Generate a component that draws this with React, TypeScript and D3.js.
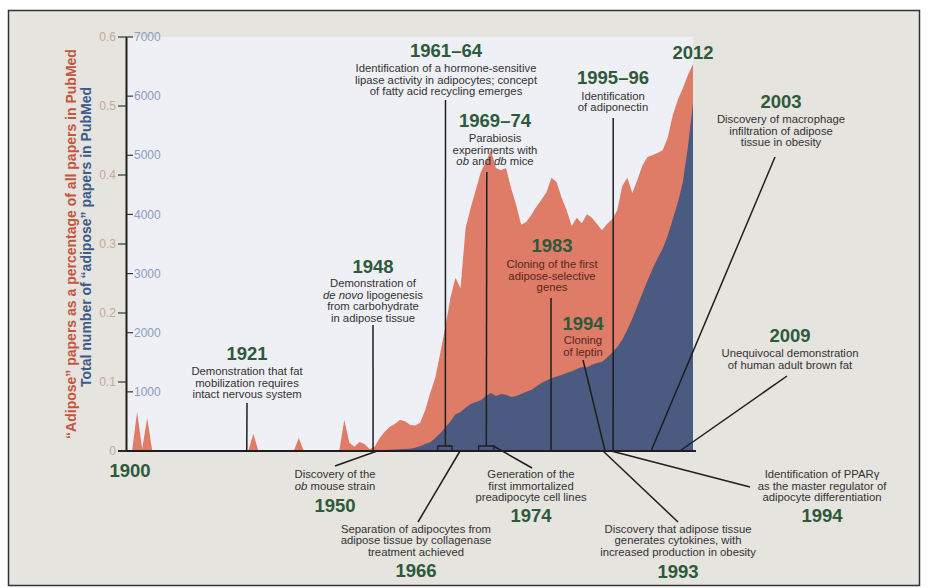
import React from "react";
import * as d3 from "d3";

const W = 928, H = 588;

// years 1900..2012, one value per year
const years = d3.range(1900, 2013);

// "adipose" papers as % of all PubMed papers
const pctOfAll = [
  0, 0, 0.057, 0.003, 0.048, 0, 0, 0, 0, 0,
  0, 0, 0, 0, 0, 0, 0, 0, 0, 0,
  0, 0, 0, 0, 0, 0.025, 0, 0, 0, 0,
  0, 0, 0, 0, 0.019, 0, 0, 0, 0, 0,
  0, 0, 0, 0.045, 0.012, 0.006, 0.013, 0.01, 0.003, 0.006,
  0.019, 0.028, 0.035, 0.039, 0.045, 0.043, 0.038, 0.037, 0.041, 0.059,
  0.084, 0.106, 0.142, 0.18, 0.222, 0.251, 0.236, 0.323, 0.352, 0.378,
  0.404, 0.419, 0.436, 0.41, 0.407, 0.41, 0.381, 0.357, 0.328, 0.332,
  0.342, 0.354, 0.364, 0.375, 0.396, 0.39, 0.367, 0.349, 0.326, 0.338,
  0.33, 0.343, 0.338, 0.329, 0.32, 0.329, 0.336, 0.349, 0.384, 0.396,
  0.374, 0.393, 0.414, 0.426, 0.429, 0.432, 0.436, 0.454, 0.487, 0.509,
  0.526, 0.545, 0.561,
];

// total number of "adipose" papers
const adiposeCount = [
  0, 0, 3, 0, 3, 0, 0, 0, 0, 0,
  0, 0, 0, 0, 0, 0, 0, 0, 0, 0,
  0, 0, 0, 0, 0, 2, 0, 0, 0, 0,
  0, 0, 0, 0, 2, 0, 0, 0, 0, 0,
  0, 0, 0, 4, 1, 1, 2, 1, 1, 2,
  10, 15, 20, 25, 30, 35, 40, 55, 80, 120,
  150, 220, 300, 400, 500, 620, 660, 730, 795, 830,
  860, 930, 980, 930, 965, 950, 915, 930, 965, 1000,
  1030, 1090, 1150, 1190, 1230, 1260, 1285, 1320, 1350, 1385,
  1420, 1410, 1460, 1490, 1510, 1580, 1660, 1760, 1880, 2050,
  2240, 2450, 2670, 2880, 3080, 3260, 3420, 3640, 3920, 4200,
  4550, 5150, 5880,
];

const pctTicks = [0, 0.1, 0.2, 0.3, 0.4, 0.5, 0.6];
const countTicks = [1000, 2000, 3000, 4000, 5000, 6000, 7000];

// periods marked with a small bracket on the axis
const brackets = [
  [1961.5, 1964.3],
  [1969.6, 1972.6],
];

// timeline notes: anchor = year on the axis where the leader starts
// (*text* = italic)
const notes = [
  { label: "1921", lines: ["Demonstration that fat", "mobilization requires", "intact nervous system"], anchor: 1923.7, below: false },
  { label: "1948", lines: ["Demonstration of", "*de novo* lipogenesis", "from carbohydrate", "in adipose tissue"], anchor: 1948.7, below: false },
  { label: "1961–64", lines: ["Identification of a hormone-sensitive", "lipase activity in adipocytes; concept", "of fatty acid recycling emerges"], anchor: 1963.0, below: false },
  { label: "1969–74", lines: ["Parabiosis", "experiments with", "*ob* and *db* mice"], anchor: 1971.1, below: false },
  { label: "1983", lines: ["Cloning of the first", "adipose-selective", "genes"], anchor: 1983.9, below: false },
  { label: "1994", lines: ["Cloning", "of leptin"], anchor: 1994.6, below: false },
  { label: "1995–96", lines: ["Identification", "of adiponectin"], anchor: 1996.2, below: false },
  { label: "2003", lines: ["Discovery of macrophage", "infiltration of adipose", "tissue in obesity"], anchor: 2003.7, below: false },
  { label: "2009", lines: ["Unequivocal demonstration", "of human adult brown fat"], anchor: 2009.4, below: false },
  { label: "1950", lines: ["Discovery of the", "*ob* mouse strain"], anchor: 1949.5, below: true },
  { label: "1966", lines: ["Separation of adipocytes from", "adipose tissue by collagenase", "treatment achieved"], anchor: 1965.9, below: true },
  { label: "1974", lines: ["Generation of the", "first immortalized", "preadipocyte cell lines"], anchor: 1972.5, below: true },
  { label: "1993", lines: ["Discovery that adipose tissue", "generates cytokines, with", "increased production in obesity"], anchor: 1994.2, below: true },
  { label: "1994", lines: ["Identification of PPARγ", "as the master regulator of", "adipocyte differentiation"], anchor: 1995.8, below: true },
];

// where each note's text sits and where its leader ends (same order as notes)
const noteLayout = [
  { cx: 247, yearY: 360, textY: 375, tip: [247, 403], onArea: false },
  { cx: 373, yearY: 272.5, textY: 287, tip: [373, 325], onArea: false },
  { cx: 446, yearY: 57, textY: 72, tip: [445.5, 100], onArea: false },
  { cx: 495, yearY: 126.5, textY: 142, tip: [486.8, 172], onArea: false },
  { cx: 552, yearY: 252, textY: 268, tip: [551, 298], onArea: true },
  { cx: 583, yearY: 329.5, textY: 344, tip: [583, 360], onArea: true },
  { cx: 613, yearY: 83.5, textY: 99.5, tip: [613.2, 118], onArea: false },
  { cx: 781, yearY: 108, textY: 123, tip: [775, 157], onArea: false },
  { cx: 790, yearY: 341.5, textY: 357, tip: [787, 376], onArea: false },
  { cx: 335, yearY: 512, textY: 478, tip: [335, 466], onArea: false },
  { cx: 416, yearY: 577, textY: 532.5, tip: [418, 522], onArea: false },
  { cx: 531, yearY: 521.5, textY: 478, tip: [532, 468], onArea: false },
  { cx: 678, yearY: 577.5, textY: 532.5, tip: [678, 522], onArea: false },
  { cx: 822, yearY: 521.5, textY: 478, tip: [750, 487], onArea: false },
];

const FONT = "'Liberation Sans', Arial, Helvetica, sans-serif";
const GREEN = "#2d5a3b";
const SALMON = "#de7c68";
const NAVY = "#4a5a80";

const Rich = ({ s }: { s: string }) => (
  <>
    {s.split("*").map((part, i) => (
      <tspan key={i} fontStyle={i % 2 ? "italic" : "normal"}>{part}</tspan>
    ))}
  </>
);

export default function App() {
  const plot = { left: 127, right: 693, top: 37, bottom: 451 };
  const x = d3.scaleLinear().domain([1900, 2012]).range([plot.left, plot.right]);
  const yPct = d3.scaleLinear().domain([0, 0.6]).range([plot.bottom, plot.top]);
  const yCnt = d3.scaleLinear().domain([0, 7000]).range([plot.bottom, plot.top]);

  const pctArea = d3.area<number>()
    .x((_, i) => x(years[i]))
    .y0(yPct(0))
    .y1((d) => yPct(d));
  const cntArea = d3.area<number>()
    .x((_, i) => x(years[i]))
    .y0(yCnt(0))
    .y1((d) => yCnt(d));

  const base = plot.bottom;
  const bracketTop = base - 5;
  const lineH = 11.5;

  return (
    <svg
      width={W}
      height={H}
      style={{ position: "absolute", left: 0, top: 0, background: "#fff" }}
      fontFamily={FONT}
    >
      {/* frame */}
      <rect x={8.5} y={10.5} width={911} height={575} fill="#e6e4df" stroke="#333" strokeWidth={1.5} />
      <rect x={plot.left} y={plot.top} width={plot.right - plot.left} height={plot.bottom - plot.top} fill="#eef0f5" />

      {/* areas */}
      <path d={pctArea(pctOfAll) || ""} fill={SALMON} />
      <path d={cntArea(adiposeCount) || ""} fill={NAVY} />

      {/* brackets */}
      {brackets.map(([a, b], i) => (
        <path
          key={i}
          d={`M${x(a)},${base}V${bracketTop}H${x(b)}V${base}`}
          fill="none"
          stroke="#1e1e1e"
          strokeWidth={1.3}
        />
      ))}

      {/* leader lines */}
      {notes.map((n, i) => {
        const L = noteLayout[i];
        const ax = x(n.anchor);
        const inBracket = brackets.some(([a, b]) => n.anchor > a && n.anchor < b);
        const ay = inBracket ? bracketTop : base;
        return (
          <line key={i} x1={ax} y1={ay} x2={L.tip[0]} y2={L.tip[1]} stroke="#1e1e1e" strokeWidth={1.5} />
        );
      })}

      {/* axes */}
      <line x1={118} x2={696} y1={base} y2={base} stroke="#1e1e1e" strokeWidth={2} />
      <line x1={plot.left - 0.5} x2={plot.left - 0.5} y1={plot.top} y2={base} stroke="#1e1e1e" strokeWidth={2} />
      {pctTicks.map((t) => (
        <g key={"p" + t}>
          <line x1={118} x2={plot.left} y1={yPct(t)} y2={yPct(t)} stroke="#333" strokeWidth={1.2} />
          <text x={116} y={yPct(t)} dy="0.35em" textAnchor="end" fontSize={12} fill="#c7a69e">
            {t === 0 ? "0" : d3.format(".1f")(t)}
          </text>
        </g>
      ))}
      {countTicks.map((t) => (
        <g key={"c" + t}>
          <line x1={plot.left} x2={plot.left + 6} y1={yCnt(t)} y2={yCnt(t)} stroke="#333" strokeWidth={1.2} />
          <text x={plot.left + 7} y={yCnt(t)} dy="0.35em" fontSize={12} fill="#8b9dbd">
            {t}
          </text>
        </g>
      ))}

      {/* axis titles */}
      <text
        transform="translate(76,244) rotate(-90)"
        textAnchor="middle"
        fontSize={14}
        fontWeight="bold"
        fill="#c4563f"
      >
        “Adipose” papers as a percentage of all papers in PubMed
      </text>
      <text
        transform="translate(91,237) rotate(-90)"
        textAnchor="middle"
        fontSize={14}
        fontWeight="bold"
        fill="#3c5a8a"
      >
        Total number of “adipose” papers in PubMed
      </text>

      {/* end labels */}
      <text x={130} y={477} textAnchor="middle" fontSize={18.5} fontWeight="bold" fill={GREEN}>1900</text>
      <text x={693} y={59} textAnchor="middle" fontSize={18.5} fontWeight="bold" fill={GREEN}>2012</text>

      {/* notes */}
      {notes.map((n, i) => {
        const L = noteLayout[i];
        return (
          <g key={"n" + i}>
            <text x={L.cx} y={L.yearY} textAnchor="middle" fontSize={18.5} fontWeight="bold" fill={GREEN}>
              {n.label}
            </text>
            {n.lines.map((s, j) => (
              <text
                key={j}
                x={L.cx}
                y={L.textY + j * lineH}
                textAnchor="middle"
                fontSize={11.3}
                fill={L.onArea ? "#57261d" : "#333"}
              >
                <Rich s={s} />
              </text>
            ))}
          </g>
        );
      })}
    </svg>
  );
}
